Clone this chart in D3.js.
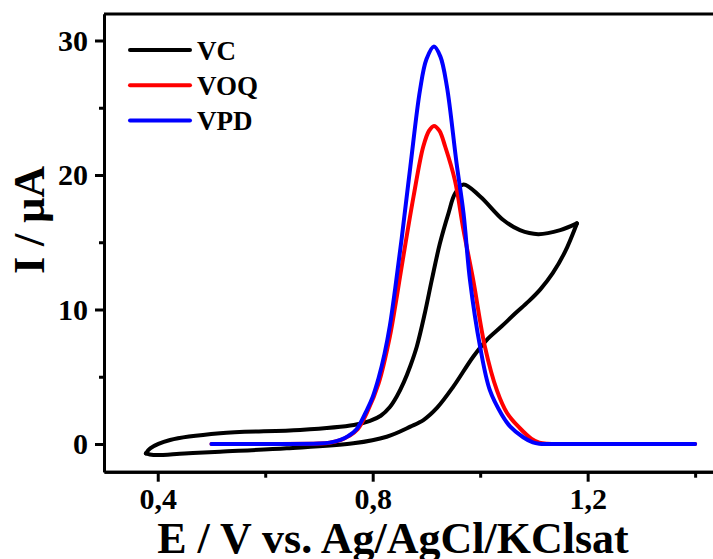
<!DOCTYPE html>
<html>
<head>
<meta charset="utf-8">
<script src="https://cdn.jsdelivr.net/npm/d3@7"></script>
<style>
  body { margin: 0; background: #fff; }
  svg text { font-family: "Liberation Serif", "Times New Roman", serif; font-weight: bold; }
</style>
</head>
<body>
<svg id="wykres"></svg>
<script>
// dane: [E / V, I / uA]

// VC - woltamperogram cykliczny, dolna i gorna galaz (obie od lewego do prawego wierzcholka)
let vcDolna = [
  [0.378, -0.70], [0.392, -0.82], [0.45, -0.70], [0.516, -0.57], [0.64, -0.32],
  [0.764, 0.05], [0.826, 0.54], [0.870, 1.29], [0.895, 1.80], [0.920, 2.70],
  [0.950, 4.26], [0.987, 6.49], [1.012, 7.73], [1.040, 8.75], [1.065, 9.7],
  [1.090, 10.6], [1.112, 11.5], [1.135, 12.7], [1.158, 14.3], [1.180, 16.4]
];
let vcGorna = [
  [0.378, -0.70], [0.386, -0.32], [0.423, 0.30], [0.516, 0.80], [0.665, 1.04],
  [0.765, 1.41], [0.795, 1.72], [0.815, 2.10], [0.832, 2.75], [0.845, 3.55],
  [0.858, 4.60], [0.870, 5.80], [0.882, 7.23], [0.897, 9.72], [0.910, 12.2],
  [0.925, 14.9], [0.941, 17.15], [0.953, 18.6], [0.969, 19.3], [1.000, 18.4],
  [1.043, 16.65], [1.074, 15.9], [1.108, 15.6], [1.149, 15.9], [1.180, 16.4]
];

// VOQ - czerwona
let voq = [
  [0.50, 0], [0.60, 0], [0.70, 0.03], [0.72, 0.09], [0.74, 0.28], [0.756, 0.6],
  [0.772, 1.1], [0.79, 2.4], [0.811, 4.5], [0.832, 8.0], [0.845, 11.0],
  [0.856, 13.7], [0.876, 18.4], [0.894, 22.1], [0.905, 23.3], [0.914, 23.65],
  [0.924, 23.3], [0.935, 22.1], [0.953, 19.6], [0.969, 15.9], [0.987, 12.2],
  [1.009, 7.2], [1.031, 4.0], [1.050, 2.3], [1.074, 1.17], [1.095, 0.4],
  [1.110, 0.1], [1.125, 0.01], [1.14, 0], [1.2, 0], [1.3, 0], [1.4, 0]
];

// VPD - niebieska
let vpd = [
  [0.50, 0], [0.60, 0], [0.70, 0.03], [0.72, 0.1], [0.74, 0.3], [0.755, 0.6],
  [0.77, 1.1], [0.79, 2.6], [0.80, 3.5], [0.811, 4.9], [0.822, 6.7],
  [0.832, 8.8], [0.842, 11.6], [0.854, 15.3], [0.870, 20.6], [0.888, 26.3],
  [0.900, 28.6], [0.914, 29.55], [0.926, 28.8], [0.938, 26.6], [0.956, 20.9],
  [0.969, 17.15], [0.981, 12.2], [1.000, 7.2], [1.018, 4.0], [1.040, 2.2],
  [1.056, 1.29], [1.080, 0.5], [1.098, 0.12], [1.110, 0.02], [1.125, 0],
  [1.2, 0], [1.3, 0], [1.4, 0]
];

let serie = ['VC', 'VOQ', 'VPD'];
let kolory = ['#000000', '#ff0000', '#0000ff'];

let xGlowne = [0.4, 0.8, 1.2];
let xEtykiety = ['0,4', '0,8', '1,2'];
let xPomocnicze = [0.6, 1.0, 1.4];
let yGlowne = [0, 10, 20, 30];
let yEtykiety = ['0', '10', '20', '30'];
let yPomocnicze = [5, 15, 25];

let szer = 713, wys = 559;
let svg = d3.select('#wykres').attr('width', szer).attr('height', wys);

let x = d3.scaleLinear().domain([0.3, 1.45]).range([104, 722]);
let y = d3.scaleLinear().domain([-2.06, 31.97]).range([471.7, 14]);

// ramka - gorna linia (prawa poza obrazkiem)
svg.append('line')
  .attr('x1', 104).attr('x2', szer + 10)
  .attr('y1', y(31.97)).attr('y2', y(31.97))
  .attr('stroke', '#000').attr('stroke-width', 3);

// osie
function styl(g) {
  g.selectAll('path.domain').attr('stroke-width', 3);
  g.selectAll('.tick line').attr('stroke-width', 3);
  g.selectAll('.tick text')
    .attr('font-size', 30)
    .attr('font-family', '"Liberation Serif", "Times New Roman", serif')
    .attr('font-weight', 'bold')
    .attr('fill', '#000');
}

svg.append('g').attr('transform', 'translate(0,' + 471.7 + ')')
  .call(d3.axisBottom(x).tickValues(xPomocnicze).tickSize(6).tickSizeOuter(0).tickFormat(''))
  .call(styl);
svg.append('g').attr('transform', 'translate(0,' + 471.7 + ')')
  .call(d3.axisBottom(x).tickValues(xGlowne).tickSize(10).tickSizeOuter(0).tickPadding(6)
    .tickFormat(function(d, i) { return xEtykiety[i]; }))
  .call(styl);

svg.append('g').attr('transform', 'translate(104,0)')
  .call(d3.axisLeft(y).tickValues(yPomocnicze).tickSize(5).tickSizeOuter(0).tickFormat(''))
  .call(styl);
svg.append('g').attr('transform', 'translate(104,0)')
  .call(d3.axisLeft(y).tickValues(yGlowne).tickSize(9).tickSizeOuter(0).tickPadding(7)
    .tickFormat(function(d, i) { return yEtykiety[i]; }))
  .call(styl);

// krzywe
let linia = d3.line()
  .x(function(d) { return x(d[0]); })
  .y(function(d) { return y(d[1]); })
  .curve(d3.curveCatmullRom.alpha(0.5));

let krzywe = [
  { dane: vcDolna, kolor: kolory[0] },
  { dane: vcGorna, kolor: kolory[0] },
  { dane: voq, kolor: kolory[1] },
  { dane: vpd, kolor: kolory[2] }
];

krzywe.forEach(function(k) {
  svg.append('path')
    .datum(k.dane)
    .attr('d', linia)
    .attr('fill', 'none')
    .attr('stroke', k.kolor)
    .attr('stroke-width', 4)
    .attr('stroke-linejoin', 'round')
    .attr('stroke-linecap', 'round');
});

// legenda
let legenda = svg.append('g');
serie.forEach(function(s, i) {
  let yy = 50 + i * 35.3;
  legenda.append('line')
    .attr('x1', 130).attr('x2', 190).attr('y1', yy).attr('y2', yy)
    .attr('stroke', kolory[i]).attr('stroke-width', 4).attr('stroke-linecap', 'round');
  legenda.append('text')
    .attr('x', 197).attr('y', yy + 9.5)
    .attr('font-size', 27)
    .text(s);
});

// opisy osi
svg.append('text')
  .attr('x', 393).attr('y', 553)
  .attr('text-anchor', 'middle')
  .attr('font-size', 44)
  .text('E / V vs. Ag/AgCl/KClsat');

svg.append('text')
  .attr('transform', 'translate(44,220) rotate(-90)')
  .attr('text-anchor', 'middle')
  .attr('font-size', 44)
  .text('I / μA');
</script>
</body>
</html>
